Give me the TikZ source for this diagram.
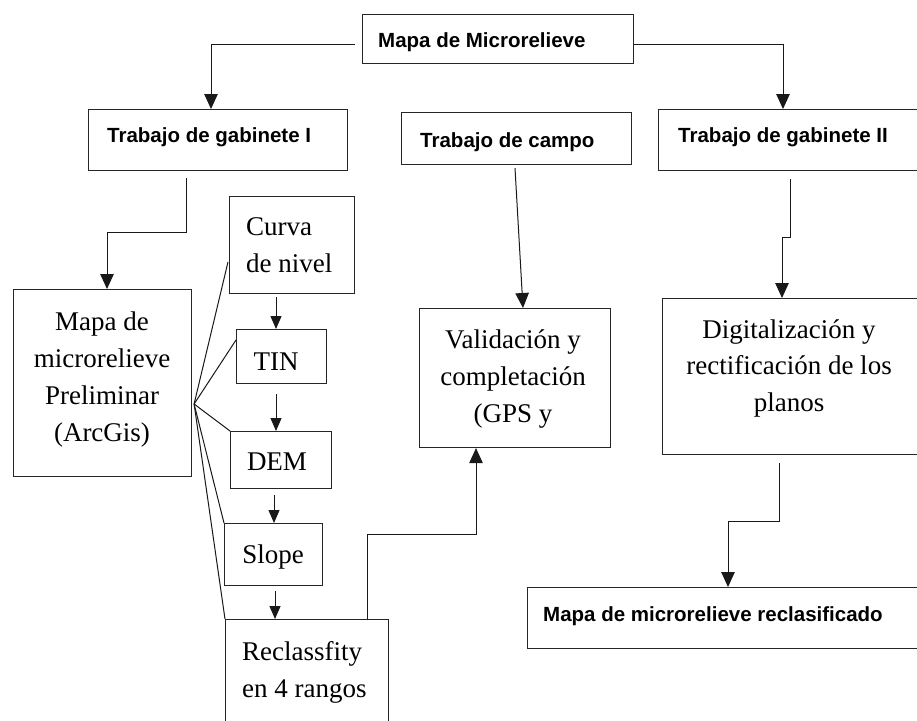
\documentclass[tikz,border=0pt]{standalone}
\usepackage{fontspec}
\setmainfont{Liberation Serif}
\setsansfont{Liberation Sans}
\usetikzlibrary{arrows.meta,calc}
\begin{document}
\begin{tikzpicture}[x=1pt,y=-1pt,
  box/.style={draw=black!85, line width=1.1pt, inner sep=0pt, anchor=north west},
  conn/.style={draw=black!90, line width=1pt},
  arr/.style={conn, -{Triangle[length=15pt,width=13.5pt]}},
  sarr/.style={conn, -{Triangle[length=13pt,width=11pt]}},
  hd/.style={font=\fontsize{20.5}{24}\selectfont\sffamily\bfseries, inner sep=0pt, anchor=base west},
  tx/.style={font=\fontsize{27}{37}\selectfont, inner sep=0pt, anchor=base, align=center},
]
\fill[white] (0,0) rectangle (917,720);
\useasboundingbox (0,0) rectangle (917,720);

% boxes
\node[box, minimum width=271pt, minimum height=49pt] (top) at (362,14) {};
\node[box, minimum width=259pt, minimum height=61pt] (g1) at (88,109) {};
\node[box, minimum width=230pt, minimum height=52pt] (campo) at (401,112) {};
\node[box, minimum width=280pt, minimum height=61pt] (g2) at (658,109) {};
\node[box, minimum width=178pt, minimum height=187pt] (mapa) at (13,289) {};
\node[box, minimum width=125pt, minimum height=97pt] (curva) at (229,196) {};
\node[box, minimum width=90pt, minimum height=54pt] (tin) at (236,329) {};
\node[box, minimum width=101pt, minimum height=57pt] (dem) at (230,431) {};
\node[box, minimum width=98pt, minimum height=62pt] (slope) at (224,523) {};
\node[box, minimum width=163pt, minimum height=120pt] (reclass) at (225,619) {};
\node[box, minimum width=191pt, minimum height=139pt] (valid) at (419,308) {};
\node[box, minimum width=280pt, minimum height=156pt] (digital) at (662,298) {};
\node[box, minimum width=420pt, minimum height=61pt] (reclf) at (527,587) {};

% texts (multi-line nodes: base = baseline of last line)
\node[hd] (topt) at (378,47) {Mapa de Microrelieve};
\node[hd] (g1t) at (107,142) {Trabajo de gabinete I};
\node[hd] (campot) at (420,147) {Trabajo de campo};
\node[hd] (g2t) at (678,142) {Trabajo de gabinete II};
\node[hd] (reclft) at (543,621) {Mapa de microrelieve reclasificado};
\node[tx] (mapat) at (102,441) {Mapa de\\microrelieve\\Preliminar\\(ArcGis)};
\node[tx, align=left, anchor=base west] (curvat) at (246,272) {Curva\\de nivel};
\node[tx] (tint) at (276,370) {TIN};
\node[tx] (demt) at (277,470) {DEM};
\node[tx] (slopet) at (273,563) {Slope};
\node[tx, align=left, anchor=base west] (reclasst) at (242,697) {Reclassfity\\en 4 rangos};
\node[tx] (validt) at (513,422) {Validación y\\completación\\(GPS y};
\node[tx, font=\fontsize{27}{36.5}\selectfont] (digitalt) at (789,411) {Digitalización y\\rectificación de los\\planos};

% connectors
\draw[arr] ($(top.north west)+(-7,30)$) -| ($(g1.north west)+(123,0)$);
\draw[arr] ($(top.north east)+(0,30)$) -| ($(g2.north west)+(125,0)$);
\draw[arr] ($(g1.south west)+(98,7)$) |- ($(mapa.north west)+(94,-57)$) -- ($(mapa.north west)+(94,0)$);
\draw[arr] ($(campo.south west)+(114,3)$) -- ($(valid.north west)+(104,0)$);
\draw[arr] ($(g2.south west)+(132,8)$) |- ($(digital.north west)+(120,-61)$) -- ($(digital.north west)+(120,0)$);
\draw[arr] ($(digital.south west)+(117,8)$) |- ($(reclf.north west)+(201,-66)$) -- ($(reclf.north west)+(201,0)$);
\draw[sarr] ($(curva.south west)+(47,3)$) -- ($(tin.north west)+(40,0)$);
\draw[sarr] ($(tin.south west)+(40,10)$) -- ($(dem.north west)+(46,0)$);
\draw[sarr] ($(dem.south west)+(44,6)$) -- ($(slope.north west)+(50,0)$);
\draw[sarr] ($(slope.south west)+(51,5)$) -- ($(reclass.north west)+(50,0)$);
\draw[arr] ($(reclass.north west)+(142,0)$) |- ($(valid.south west)+(57,86)$) -- ($(valid.south west)+(57,0)$);

% fan lines
\coordinate (fan) at ($(mapa.north east)+(2,115)$);
\draw[conn] (fan) -- ($(curva.north west)+(-1,66)$);
\draw[conn] (fan) -- ($(tin.north west)+(0,11)$);
\draw[conn] (fan) -- (dem.north west);
\draw[conn] (fan) -- (slope.north west);
\draw[conn] (fan) -- (reclass.north west);
\end{tikzpicture}
\end{document}
